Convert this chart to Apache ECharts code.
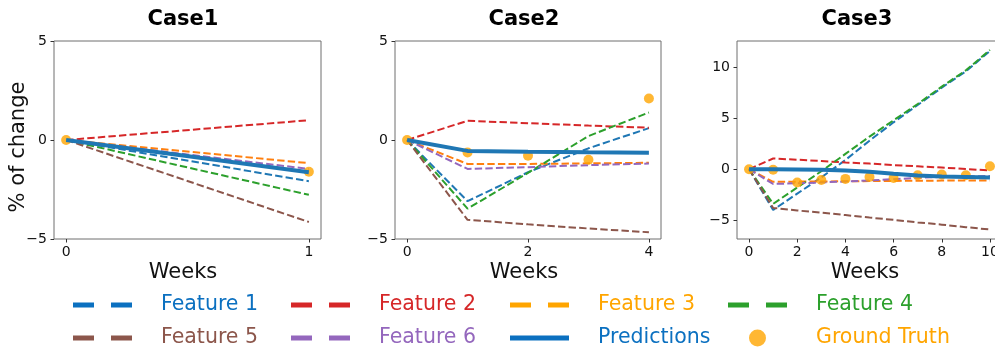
<!DOCTYPE html>
<html>
<head>
<meta charset="utf-8">
<script src="https://cdn.jsdelivr.net/npm/echarts@6/dist/echarts.min.js"></script>
<style>
  html, body { margin: 0; padding: 0; background: #fff; }
  #chart { width: 995px; height: 349px; }
</style>
</head>
<body>
<div id="chart"></div>
<script>
// Weeks on the x axis of each panel
const weeks1 = [0, 1];
const weeks2 = [0, 1, 2, 3, 4];
const weeks3 = [0, 1, 2, 3, 4, 5, 6, 7, 8, 9, 10];

// Case1 (% of change)
const c1Feature1 = [0, -2.08];
const c1Feature2 = [0, 1.0];
const c1Feature3 = [0, -1.17];
const c1Feature4 = [0, -2.77];
const c1Feature5 = [0, -4.14];
const c1Feature6 = [0, -1.46];
const c1Predictions = [0, -1.63];
const c1GroundTruth = [0, -1.6];

// Case2
const c2Feature1 = [0, -3.09, -1.63, -0.42, 0.6];
const c2Feature2 = [0, 0.97, 0.85, 0.73, 0.62];
const c2Feature3 = [0, -1.21, -1.21, -1.18, -1.15];
const c2Feature4 = [0, -3.47, -1.66, 0.2, 1.39];
const c2Feature5 = [0, -4.03, -4.26, -4.47, -4.66];
const c2Feature6 = [0, -1.46, -1.37, -1.27, -1.19];
const c2Predictions = [0, -0.55, -0.59, -0.62, -0.64];
const c2GroundTruth = [0, -0.63, -0.79, -1.0, 2.1];

// Case3
const c3Feature1 = [0, -4.0, -2.4, -0.8, 0.9, 2.8, 4.6, 6.3, 8.0, 9.6, 11.6];
const c3Feature2 = [0, 1.05, 0.93, 0.8, 0.66, 0.55, 0.4, 0.28, 0.16, 0.02, -0.13];
const c3Feature3 = [0, -1.24, -1.22, -1.2, -1.19, -1.17, -1.15, -1.13, -1.12, -1.11, -1.1];
const c3Feature4 = [0, -3.4, -1.8, -0.2, 1.5, 3.2, 4.8, 6.4, 8.1, 9.7, 11.7];
const c3Feature5 = [0, -3.8, -4.05, -4.27, -4.5, -4.75, -4.97, -5.22, -5.44, -5.69, -5.92];
const c3Feature6 = [0, -1.45, -1.38, -1.3, -1.2, -1.1, -0.98, -0.86, -0.75, -0.7, -0.67];
const c3Predictions = [0, 0, -0.02, -0.05, -0.13, -0.26, -0.45, -0.62, -0.72, -0.76, -0.82];
const c3GroundTruth = [0, -0.06, -1.3, -1.06, -0.95, -0.76, -0.86, -0.6, -0.52, -0.6, 0.29];

// Panel titles and tick values
const caseTitles = ['Case1', 'Case2', 'Case3'];
const xTicks1 = [0, 1];
const xTicks2 = [0, 2, 4];
const xTicks3 = [0, 2, 4, 6, 8, 10];
const yTicks3 = [-5, 0, 5, 10];

const featureNames = ['Feature 1', 'Feature 2', 'Feature 3', 'Feature 4', 'Feature 5', 'Feature 6'];
const lineColors = ['#1f77b4', '#d62728', '#ff7f0e', '#2ca02c', '#8c564b', '#9467bd'];
const legendColors = ['#0b70c0', '#d62728', '#ffa500', '#2ca02c', '#8c564b', '#9467bd'];
const predColor = '#1f77b4';
const gtColor = '#ffa500';
const FONT = 'DejaVu Sans';

const cases = [
  { weeks: weeks1, feats: [c1Feature1, c1Feature2, c1Feature3, c1Feature4, c1Feature5, c1Feature6], pred: c1Predictions, gt: c1GroundTruth },
  { weeks: weeks2, feats: [c2Feature1, c2Feature2, c2Feature3, c2Feature4, c2Feature5, c2Feature6], pred: c2Predictions, gt: c2GroundTruth },
  { weeks: weeks3, feats: [c3Feature1, c3Feature2, c3Feature3, c3Feature4, c3Feature5, c3Feature6], pred: c3Predictions, gt: c3GroundTruth }
];

const pairs = (xs, ys) => xs.map((x, i) => [x, ys[i]]);
const minus = v => String(v).replace('-', '\u2212');

const grids = [
  { left: 54, top: 41, width: 267, height: 198 },
  { left: 395, top: 41, width: 266, height: 198 },
  { left: 737, top: 41, width: 265, height: 198 }
].map(g => Object.assign(g, {
  show: true, borderColor: '#6e6e6e', borderWidth: 1,
  containLabel: false, outerBoundsMode: 'none'
}));

const xRanges = [[-0.05, 1.05, xTicks1], [-0.2, 4.2, xTicks2], [-0.5, 10.5, xTicks3]];
const yRanges = [[-5, 5, [-5, 0, 5]], [-5, 5, [-5, 0, 5]], [-6.85, 12.58, yTicks3]];

const tickStyle = { show: true, length: 3.5, inside: false, lineStyle: { color: '#333', width: 1 } };
const labelStyle = { color: '#111', fontFamily: FONT, fontSize: 14, formatter: minus, hideOverlap: false };

const xAxes = xRanges.map((r, i) => ({
  type: 'value', gridIndex: i, min: r[0], max: r[1], position: 'bottom',
  axisLine: { show: false, onZero: false }, splitLine: { show: false },
  axisTick: Object.assign({ customValues: r[2] }, tickStyle),
  axisLabel: Object.assign({ customValues: r[2], margin: 6 }, labelStyle)
}));
const yAxes = yRanges.map((r, i) => ({
  type: 'value', gridIndex: i, min: r[0], max: r[1], position: 'left',
  axisLine: { show: false, onZero: false }, splitLine: { show: false },
  axisTick: Object.assign({ customValues: r[2] }, tickStyle),
  axisLabel: Object.assign({ customValues: r[2], margin: 7 }, labelStyle)
}));

const series = [];
cases.forEach((c, i) => {
  c.feats.forEach((f, k) => {
    series.push({
      name: featureNames[k], type: 'line', xAxisIndex: i, yAxisIndex: i,
      data: pairs(c.weeks, f), symbol: 'none', z: 2,
      color: lineColors[k],
      lineStyle: { color: lineColors[k], width: 2, type: [7.4, 3.2] }
    });
  });
  series.push({
    name: 'Ground Truth', type: 'scatter', xAxisIndex: i, yAxisIndex: i,
    data: pairs(c.weeks, c.gt), symbol: 'circle', symbolSize: 10, z: 3,
    itemStyle: { color: gtColor }
  });
  series.push({
    name: 'Predictions', type: 'line', xAxisIndex: i, yAxisIndex: i,
    data: pairs(c.weeks, c.pred), symbol: 'none', z: 4,
    color: predColor,
    lineStyle: { color: predColor, width: 4 }
  });
});

// Legend: two rows of four entries, each entry placed in its own column
const dashIcon = 'path://M0 0H21V5H0Z M38 0H59V5H38Z';
const solidIcon = 'path://M0 0H59V5H0Z';
const legendEntries = [
  { name: 'Feature 1', color: legendColors[0], icon: dashIcon },
  { name: 'Feature 2', color: legendColors[1], icon: dashIcon },
  { name: 'Feature 3', color: legendColors[2], icon: dashIcon },
  { name: 'Feature 4', color: legendColors[3], icon: dashIcon },
  { name: 'Feature 5', color: legendColors[4], icon: dashIcon },
  { name: 'Feature 6', color: legendColors[5], icon: dashIcon },
  { name: 'Predictions', color: '#0b70c0', icon: solidIcon },
  { name: 'Ground Truth', color: gtColor, icon: 'circle' }
];
const colLeft = [73, 291, 510, 728];
const rowTop = [293, 326];
const legends = legendEntries.map((e, i) => {
  const isDot = e.icon === 'circle';
  return {
    left: colLeft[i % 4] + (isDot ? 21 : 0),
    top: rowTop[Math.floor(i / 4)],
    padding: 0,
    selectedMode: false,
    itemWidth: isDot ? 17 : 59,
    itemHeight: isDot ? 17 : 5,
    data: [{ name: e.name, icon: e.icon, itemStyle: { color: e.color } }],
    textStyle: {
      color: e.color, fontFamily: FONT, fontSize: 20.5, lineHeight: 24,
      padding: [0, 0, 0, isDot ? 45 : 24]
    }
  };
});

const titleCenters = [183, 524, 857];
const weeksCenters = [183, 524, 865];

const graphic = [];
titleCenters.forEach((x, i) => {
  graphic.push({
    type: 'text', x: x, y: 20,
    style: { text: caseTitles[i], fill: '#000', font: 'bold 21px "DejaVu Sans"', align: 'center', verticalAlign: 'middle' }
  });
});
weeksCenters.forEach(x => {
  graphic.push({
    type: 'text', x: x, y: 273,
    style: { text: 'Weeks', fill: '#111', font: '21px "DejaVu Sans"', align: 'center', verticalAlign: 'middle' }
  });
});
graphic.push({
  type: 'text', x: 19, y: 147, rotation: Math.PI / 2,
  style: { text: '% of change', fill: '#111', font: '21px "DejaVu Sans"', align: 'center', verticalAlign: 'middle' }
});

const chart = echarts.init(document.getElementById('chart'), null, { renderer: 'canvas' });
chart.setOption({
  animation: false,
  backgroundColor: '#fff',
  grid: grids,
  xAxis: xAxes,
  yAxis: yAxes,
  legend: legends,
  graphic: graphic,
  series: series
});
</script>
</body>
</html>
